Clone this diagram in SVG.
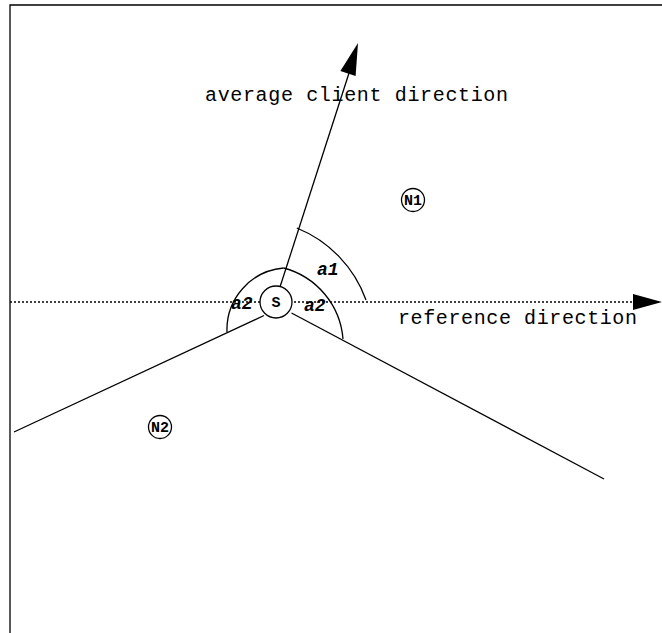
<svg xmlns="http://www.w3.org/2000/svg" width="662" height="633" viewBox="0 0 662 633">
<style>
.ln{fill:none;stroke:#000;stroke-width:1.3}
.dot{fill:none;stroke:#000;stroke-width:1.3;stroke-dasharray:2 2}
.lbl{font-family:"Liberation Mono",monospace;font-size:20px;fill:#000}
.node{fill:#fff;stroke:#000;stroke-width:1.3}
.nt{font-family:"Liberation Mono",monospace;font-size:15px;font-weight:bold;fill:#000;text-anchor:middle}
.ang{font-family:"Liberation Mono",monospace;font-size:18px;font-weight:bold;font-style:italic;fill:#000}
</style>
<rect width="662" height="633" fill="#fff"/>
<path class="ln" d="M10,633 V5 H662" stroke-width="1.5"/>
<g id="connectors">
  <line class="dot" x1="10" y1="302" x2="634" y2="302"/>
  <polygon points="662,302 633,294 633,310" fill="#000"/>
  <line class="ln" x1="280" y1="287" x2="350" y2="70"/>
  <polygon points="358,43 355.6,75.9 340.4,70.9" fill="#000"/>
  <line class="ln" x1="264" y1="315.5" x2="14" y2="432"/>
  <line class="ln" x1="291.5" y1="313" x2="604" y2="479"/>
  <path class="ln" d="M296.8,228 A122,122 0 0,1 366,300"/>
  <path class="ln" d="M283.6,268 A62,62 0 0,0 227,332"/>
  <path class="ln" d="M283.6,268 A80,80 0 0,1 343,339"/>
</g>
<text class="lbl" x="205" y="101" textLength="303">average client direction</text>
<text class="lbl" x="398" y="324" textLength="239">reference direction</text>
<text class="ang" x="317" y="275">a1</text>
<text class="ang" x="231" y="309">a2</text>
<text class="ang" x="304" y="311">a2</text>
<g id="S">
  <circle class="node" cx="276" cy="302" r="16"/>
  <text class="nt" x="276" y="307">S</text>
</g>
<g id="N1">
  <circle class="node" cx="413" cy="200" r="11.5"/>
  <text class="nt" x="413" y="205">N1</text>
</g>
<g id="N2">
  <circle class="node" cx="160" cy="427" r="11.5"/>
  <text class="nt" x="160" y="432">N2</text>
</g>
</svg>
